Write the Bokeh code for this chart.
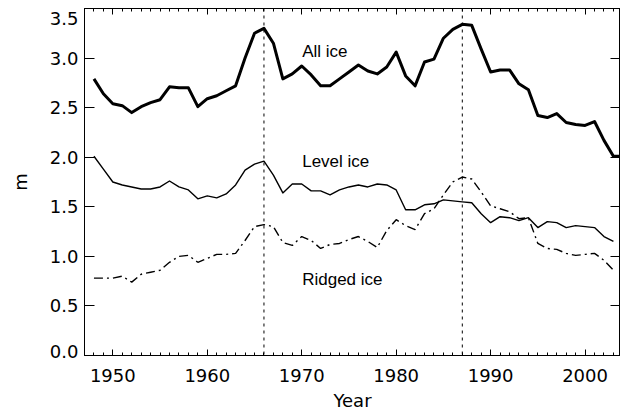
from bokeh.plotting import figure
from bokeh.models import (LinearAxis, FixedTicker, Span, Label, Range1d,
                          PrintfTickFormatter)
from bokeh.embed import file_html
from bokeh.resources import INLINE

# ---------------- data ----------------
years = list(range(1948, 2004))
all_ice_years = list(range(1948, 2005))
all_ice = [2.79, 2.64, 2.54, 2.52, 2.45, 2.51, 2.55, 2.58, 2.71, 2.70,
           2.70, 2.51, 2.59, 2.62, 2.67, 2.72, 3.00, 3.25, 3.30, 3.15,
           2.79, 2.84, 2.92, 2.83, 2.72, 2.72, 2.79, 2.86, 2.93, 2.87,
           2.84, 2.91, 3.06, 2.82, 2.72, 2.96, 2.99, 3.20, 3.29, 3.34,
           3.33, 3.09, 2.86, 2.88, 2.88, 2.74, 2.68, 2.42, 2.40, 2.44,
           2.35, 2.33, 2.32, 2.36, 2.17, 2.01, 2.01]
level_ice = [2.01, 1.88, 1.75, 1.72, 1.70, 1.68, 1.68, 1.70, 1.76, 1.70,
             1.67, 1.58, 1.61, 1.59, 1.63, 1.72, 1.87, 1.93, 1.96, 1.82,
             1.64, 1.73, 1.73, 1.66, 1.66, 1.62, 1.67, 1.70, 1.72, 1.70,
             1.73, 1.72, 1.67, 1.47, 1.47, 1.52, 1.53, 1.57, 1.56, 1.55,
             1.54, 1.43, 1.34, 1.40, 1.39, 1.36, 1.39, 1.29, 1.35, 1.34,
             1.29, 1.31, 1.30, 1.29, 1.20, 1.15]
ridged_ice = [0.78, 0.78, 0.78, 0.80, 0.74, 0.82, 0.84, 0.86, 0.94, 1.00,
              1.01, 0.94, 0.98, 1.02, 1.02, 1.03, 1.16, 1.30, 1.32, 1.30,
              1.14, 1.11, 1.20, 1.16, 1.08, 1.12, 1.13, 1.17, 1.20, 1.15,
              1.09, 1.26, 1.37, 1.31, 1.27, 1.43, 1.48, 1.62, 1.75, 1.80,
              1.78, 1.65, 1.51, 1.48, 1.45, 1.38, 1.39, 1.13, 1.08, 1.07,
              1.03, 1.01, 1.02, 1.03, 0.96, 0.86]
event_years = [1966, 1987]
series_names = ["All ice", "Level ice", "Ridged ice"]
x_major_ticks = [1950, 1960, 1970, 1980, 1990, 2000]
x_minor_ticks = list(range(1947, 2005))
y_ticks = [0.0, 0.5, 1.0, 1.5, 2.0, 2.5, 3.0, 3.5]
# end labels are nudged inward (as in the reference) with a blank line
y_label_overrides = {0.0: "0.0\n", 3.5: "\n3.5"}

TICK_FONT = "DejaVu Sans"
NOTE_FONT = "Liberation Sans"

p = figure(width=620, height=414, output_backend="svg", toolbar_location=None,
           x_range=Range1d(1947, 2003.75), y_range=Range1d(0, 3.5),
           min_border_left=84, min_border_right=0, min_border_top=8,
           min_border_bottom=59, x_axis_label="Year", y_axis_label="m")
p.xgrid.visible = False
p.ygrid.visible = False
p.outline_line_color = "black"
p.outline_line_width = 1
p.background_fill_color = "white"
p.border_fill_color = "white"

xt = FixedTicker(ticks=x_major_ticks, minor_ticks=x_minor_ticks)
yt = FixedTicker(ticks=y_ticks, minor_ticks=[])

xa = p.xaxis[0]
xa.ticker = xt
xa.formatter = PrintfTickFormatter(format="%d")
xa.major_tick_in = 6
xa.major_tick_out = 0
xa.minor_tick_in = 3
xa.minor_tick_out = 0
xa.major_label_standoff = 13
xa.axis_label_standoff = 5
xa.major_label_text_font = TICK_FONT
xa.major_label_text_font_size = "18px"
xa.axis_label_text_font = TICK_FONT
xa.axis_label_text_font_size = "18px"
xa.axis_label_text_font_style = "normal"
xa.axis_line_color = "black"
xa.major_label_text_color = "black"
xa.axis_label_text_color = "black"

ya = p.yaxis[0]
ya.ticker = yt
ya.formatter = PrintfTickFormatter(format="%.1f")
ya.major_label_overrides = y_label_overrides
ya.major_label_text_line_height = 0.35
ya.major_tick_in = 10
ya.major_tick_out = 0
ya.minor_tick_in = 0
ya.minor_tick_out = 0
ya.major_label_standoff = 6
ya.axis_label_standoff = 16
ya.major_label_text_font = TICK_FONT
ya.major_label_text_font_size = "18px"
ya.axis_label_text_font = TICK_FONT
ya.axis_label_text_font_size = "18px"
ya.axis_label_text_font_style = "normal"
ya.axis_line_color = "black"
ya.major_label_text_color = "black"
ya.axis_label_text_color = "black"

top = LinearAxis(ticker=xt, major_tick_in=6, major_tick_out=0, minor_tick_in=3,
                 minor_tick_out=0, major_label_text_font_size="0px",
                 major_label_text_alpha=0, major_label_standoff=0,
                 axis_line_color="black")
right = LinearAxis(ticker=yt, major_tick_in=10, major_tick_out=0, minor_tick_in=0,
                   minor_tick_out=0, major_label_text_font_size="0px",
                   major_label_text_alpha=0, major_label_standoff=0,
                   axis_line_color="black")
p.add_layout(top, "above")
p.add_layout(right, "right")

for yr in event_years:
    p.add_layout(Span(location=yr, dimension="height", line_color="black",
                      line_width=1, line_dash="3 4"))

p.line(all_ice_years, all_ice, line_color="black", line_width=3, line_join="round")
p.line(years, level_ice, line_color="black", line_width=1.4, line_join="round")
p.line(years, ridged_ice, line_color="black", line_width=1.4, line_dash="9 4 2 4")

for name, ly in zip(series_names, [3.07, 1.96, 0.77]):
    p.add_layout(Label(x=1970.05, y=ly, text=name, text_align="left",
                       text_baseline="middle", text_font=NOTE_FONT,
                       text_font_size="17px", text_color="black"))

open("out.html", "w").write(file_html(p, INLINE))
